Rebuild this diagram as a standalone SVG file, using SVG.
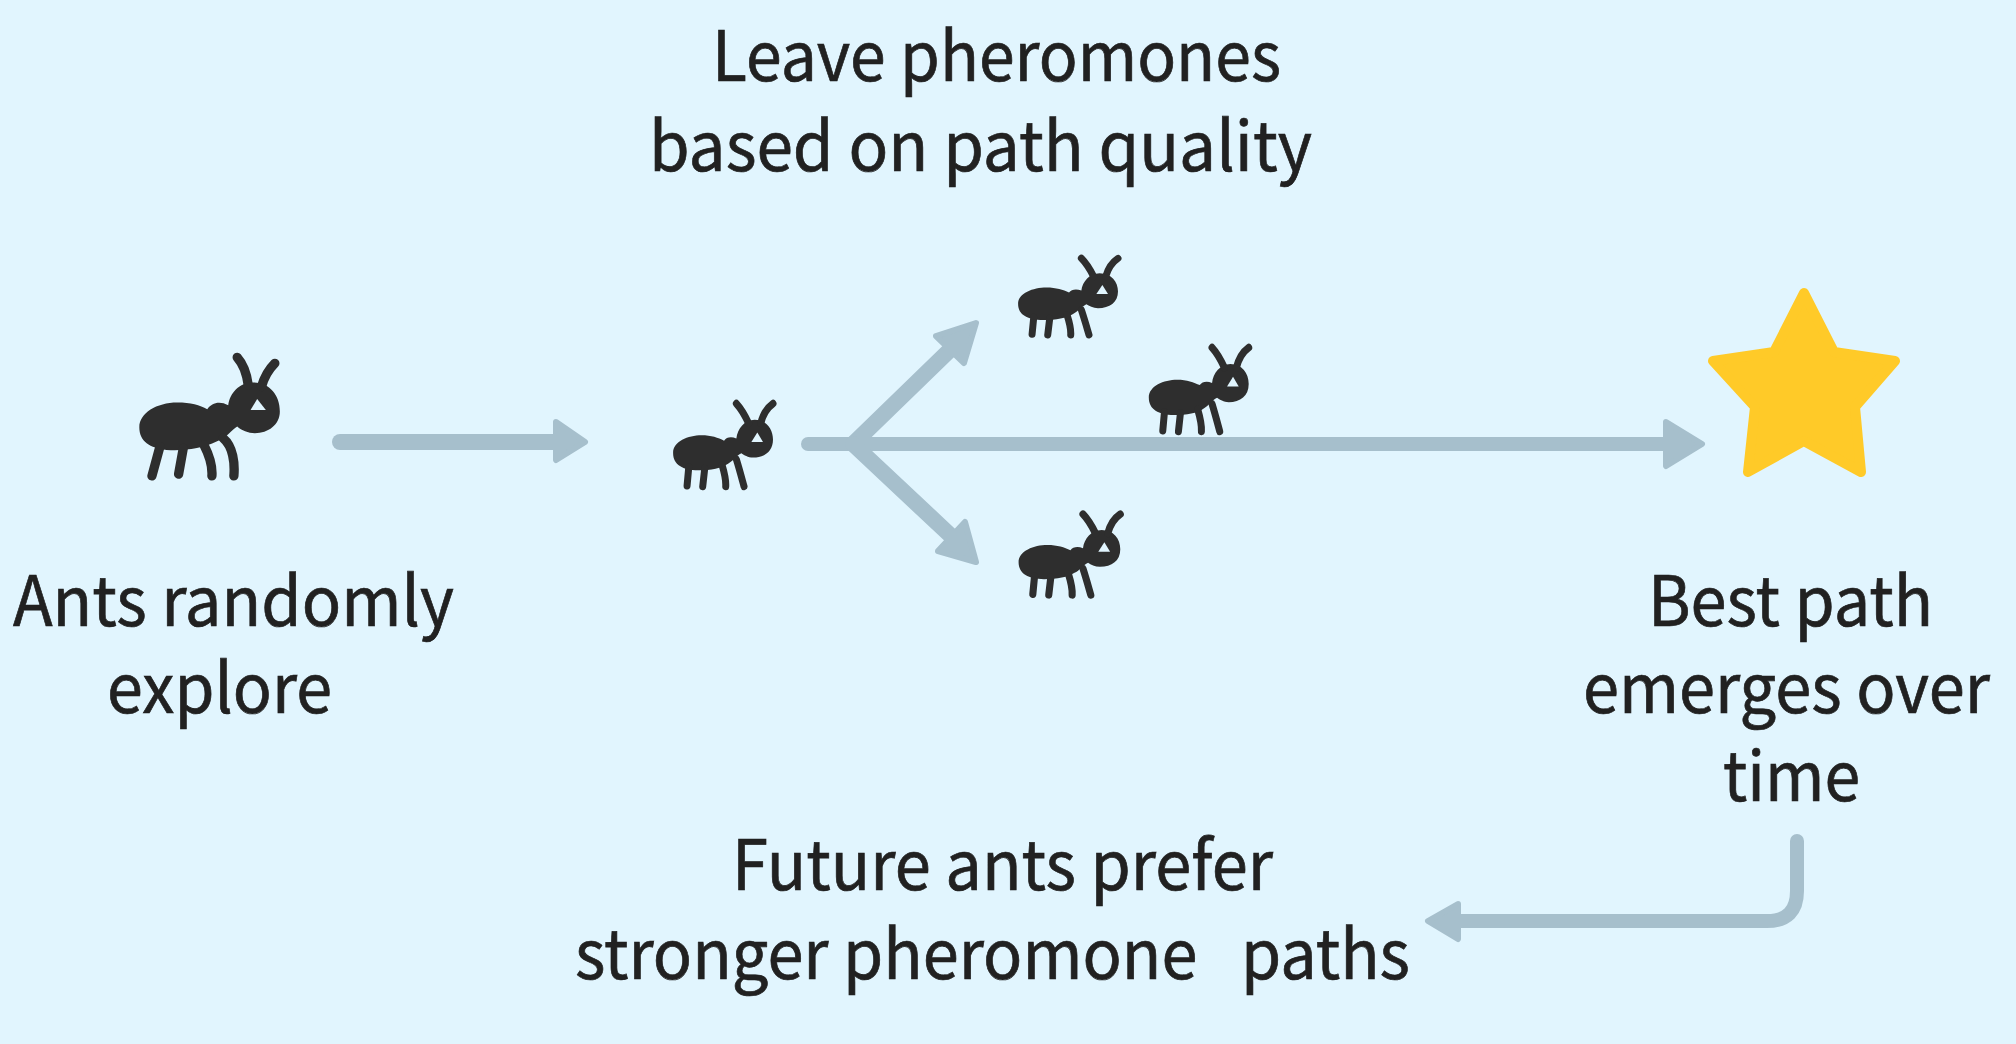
<svg xmlns="http://www.w3.org/2000/svg" width="2016" height="1044" viewBox="0 0 2016 1044">
<style>
.t{font-family:"Noto Sans CJK SC","Noto Sans",sans-serif;font-size:69px;fill:#212121;stroke:#212121;stroke-width:.7;white-space:pre}
.c{fill:none;stroke:#A6BFCC;stroke-linecap:round;stroke-linejoin:round}
.h{fill:#A6BFCC;stroke:#A6BFCC;stroke-width:6;stroke-linejoin:round}
.b{fill:#2E2E2E}
.l{fill:none;stroke:#2E2E2E;stroke-width:28;stroke-linecap:round;stroke-linejoin:round}
.s{fill:none;stroke:#2E2E2E;stroke-width:21;stroke-linecap:round;stroke-linejoin:round}
.e{fill:#E1F5FE}
</style>
<defs>
<g id="ant">
<path class="b" d="M58 292C58 250 110 218 172 218C212 218 240 226 262 238C275 218 300 212 325 226C330 190 358 158 400 158C448 158 480 195 480 245C480 285 445 310 405 310C385 310 365 302 352 290C335 300 320 325 290 335C250 355 190 364 140 360C90 354 58 335 58 292Z"/>
<path class="l" d="M120 350L96 438M190 355L176 433M252 345C270 380 278 410 276 438M310 325C340 350 345 400 342 438M385 165C380 125 368 100 352 82M425 170C435 135 450 115 465 100"/>
<path class="e" d="M412 207L438 240L392 240Z"/>
</g>
<g id="ant-small">
<path class="b" d="M715 192C715 160 760 143 800 143C830 143 850 150 868 158C875 148 890 146 905 152C908 125 930 100 960 100C995 100 1015 125 1015 155C1015 188 990 205 955 205C940 205 928 198 920 193C905 200 895 215 880 222C860 235 830 240 790 240C745 240 715 225 715 192Z"/>
<path class="s" d="M762 232L757 283M810 235L804 285M862 225C870 250 874 270 873 285M905 210C915 240 922 265 928 285M942 110C932 90 922 72 905 55M978 110C985 85 995 68 1015 55"/>
<path class="e" d="M968 135L985 162L950 162Z"/>
</g>
</defs>
<rect width="2016" height="1044" fill="#E1F5FE"/>
<g id="connectors">
<path class="c" stroke-width="16" d="M340 442H560"/>
<path class="h" d="M556 422L585 442L556 460Z"/>
<path class="c" stroke-width="14" d="M808 444H1670"/>
<path class="h" d="M1666 422L1702 444L1666 466Z"/>
<path class="c" stroke-width="16" d="M853 444L955 345"/>
<path class="h" d="M976 323L936 336L964 363Z"/>
<path class="c" stroke-width="16" d="M853 444L950 535"/>
<path class="h" d="M976 562L938 551L965 522Z"/>
<path class="c" stroke-width="14" d="M1797 841V891Q1797 921 1767 921H1450"/>
<path class="h" d="M1458 904L1428 921L1458 939Z"/>
</g>
<g id="ant-1"><use href="#ant" transform="translate(120 330) scale(.333)"/></g>
<g id="ant-2"><use href="#ant-small" transform="translate(435 383.8) scale(.333 .36)"/></g>
<g id="ant-3"><use href="#ant-small" transform="translate(780 240) scale(.333)"/></g>
<g id="ant-4"><use href="#ant-small" transform="translate(910.7 327.6) scale(.333 .364)"/></g>
<g id="ant-5"><use href="#ant-small" transform="translate(776.2 494.9) scale(.339 .351)"/></g>
<g id="star"><path fill="#FFCA28" stroke="#FFCA28" stroke-width="10" stroke-linejoin="round" d="M1804 293L1834 352L1895 361L1855 407L1861 472L1804 441L1748 472L1755 407L1713 361L1774 352Z"/></g>
<g id="label-top">
<text class="t" x="712" y="81" textLength="569" lengthAdjust="spacingAndGlyphs">Leave pheromones</text>
<text class="t" x="649" y="171" textLength="663" lengthAdjust="spacingAndGlyphs">based on path quality</text>
</g>
<g id="label-left">
<text class="t" x="13" y="626" textLength="441" lengthAdjust="spacingAndGlyphs">Ants randomly</text>
<text class="t" x="107" y="713" textLength="225" lengthAdjust="spacingAndGlyphs">explore</text>
</g>
<g id="label-right">
<text class="t" x="1648" y="626" textLength="285" lengthAdjust="spacingAndGlyphs">Best path</text>
<text class="t" x="1583" y="713" textLength="407" lengthAdjust="spacingAndGlyphs">emerges over</text>
<text class="t" x="1723" y="801" textLength="137" lengthAdjust="spacingAndGlyphs">time</text>
</g>
<g id="label-bottom">
<text class="t" x="732" y="890" textLength="541" lengthAdjust="spacingAndGlyphs">Future ants prefer</text>
<text class="t" x="575" y="979" textLength="835" lengthAdjust="spacingAndGlyphs">stronger pheromone   paths</text>
</g>
</svg>
